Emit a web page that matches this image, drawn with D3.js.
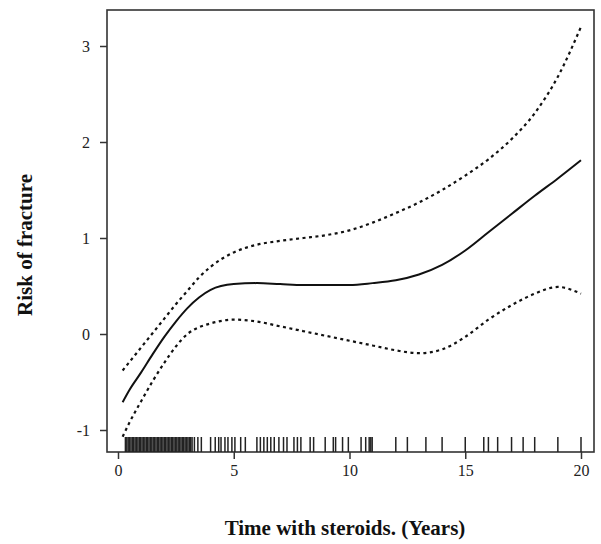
<!DOCTYPE html>
<html><head><meta charset="utf-8">
<script src="https://cdn.jsdelivr.net/npm/d3@7"></script>
<style>body{margin:0;background:#fff}svg{display:block}</style>
</head><body>
<script>
const xGrid = [0.2,0.5,1,1.5,2,2.5,3,3.5,4,5,6,7,8,9,10,11,12,13,14,15,16,17,18,19,20];
const fitVals = [-0.71,-0.58,-0.40,-0.21,-0.03,0.13,0.27,0.38,0.46,0.52,0.53,0.52,0.51,0.51,0.51,0.53,0.56,0.62,0.72,0.87,1.06,1.25,1.44,1.62,1.81];
const upperVals = [-0.38,-0.29,-0.14,0.01,0.16,0.31,0.45,0.59,0.70,0.85,0.93,0.97,1.0,1.03,1.08,1.16,1.26,1.37,1.5,1.65,1.82,2.03,2.3,2.68,3.2];
const lowerVals = [-1.07,-0.92,-0.70,-0.49,-0.30,-0.13,0.0,0.07,0.11,0.15,0.13,0.08,0.03,-0.02,-0.07,-0.12,-0.17,-0.2,-0.16,-0.03,0.15,0.3,0.42,0.49,0.42];
const rugVals = [0.32,0.38,0.44,0.5,0.56,0.62,0.68,0.74,0.8,0.86,0.92,0.98,1.04,1.1,1.16,1.22,1.28,1.34,1.4,1.46,1.52,1.58,1.64,1.7,1.76,1.82,1.88,1.94,2.0,2.06,2.12,2.18,2.24,2.3,2.36,2.42,2.48,2.54,2.6,2.66,2.72,2.78,2.84,2.9,2.96,3.02,3.08,3.14,3.2,3.3,3.45,3.6,
  4.0,4.2,4.35,4.45,4.62,4.75,4.92,5.05,5.3,5.5,6.0,6.15,6.3,6.45,6.6,6.75,6.95,7.15,7.3,7.6,7.75,7.9,8.3,8.45,8.95,9.3,9.4,9.7,9.95,10.5,10.7,10.85,10.92,10.98,12.0,12.5,13.3,14.0,15.0,15.8,16.0,16.4,17.0,17.5,18.0,19.0,20.0];
const xTicks = [0,5,10,15,20];
const yTicks = [-1,0,1,2,3];
const xTitle = "Time with steroids. (Years)";
const yTitle = "Risk of fracture";

const W = 601, H = 544;
const box = {l:107, t:10, r:594, b:452};
const x = d3.scaleLinear().domain([0,20]).range([118,581]);
const y = d3.scaleLinear().domain([-1,3]).range([430,46]);

const svg = d3.select("body").append("svg").attr("width",W).attr("height",H);
const ink = "#222";
svg.append("rect").attr("x",box.l).attr("y",box.t).attr("width",box.r-box.l).attr("height",box.b-box.t)
  .attr("fill","none").attr("stroke","#333").attr("stroke-width",1.6);

const serif = "'Liberation Serif','DejaVu Serif',serif";
const yAxis = d3.axisLeft(y).tickValues(yTicks).tickSize(7).tickPadding(10).tickFormat(d=>String(d));
const gy = svg.append("g").attr("transform",`translate(${box.l},0)`).call(yAxis);
const xAxis = d3.axisBottom(x).tickValues(xTicks).tickSize(7).tickPadding(6).tickFormat(d=>String(d));
const gx = svg.append("g").attr("transform",`translate(0,${box.b})`).call(xAxis);
[gy,gx].forEach(g=>{
  g.select(".domain").remove();
  g.selectAll(".tick line").attr("stroke","#333").attr("stroke-width",1.5);
  g.selectAll(".tick text").attr("fill",ink).style("font-family",serif).style("font-size","16px");
});

// rug
svg.append("g").selectAll("line").data(rugVals).join("line")
  .attr("x1",d=>x(d)).attr("x2",d=>x(d)).attr("y1",437).attr("y2",box.b)
  .attr("stroke","#222").attr("stroke-width",1.5);

const mk = vals => d3.line().x((d,i)=>x(xGrid[i])).y(d=>y(d)).curve(d3.curveMonotoneX)(vals);
svg.append("path").attr("d",mk(fitVals)).attr("fill","none").attr("stroke","#111").attr("stroke-width",2);
svg.append("path").attr("d",mk(upperVals)).attr("fill","none").attr("stroke","#111").attr("stroke-width",2.2).attr("stroke-dasharray","3,3.5");
svg.append("path").attr("d",mk(lowerVals)).attr("fill","none").attr("stroke","#111").attr("stroke-width",2.2).attr("stroke-dasharray","3,3.5");

svg.append("text").attr("x",345).attr("y",535).attr("text-anchor","middle")
  .style("font-family",serif).style("font-weight","bold").style("font-size","21px").attr("fill","#111").text(xTitle);
svg.append("text").attr("transform","translate(32,245) rotate(-90)").attr("text-anchor","middle")
  .style("font-family",serif).style("font-weight","bold").style("font-size","21px").attr("fill","#111").text(yTitle);
</script>
</body></html>
